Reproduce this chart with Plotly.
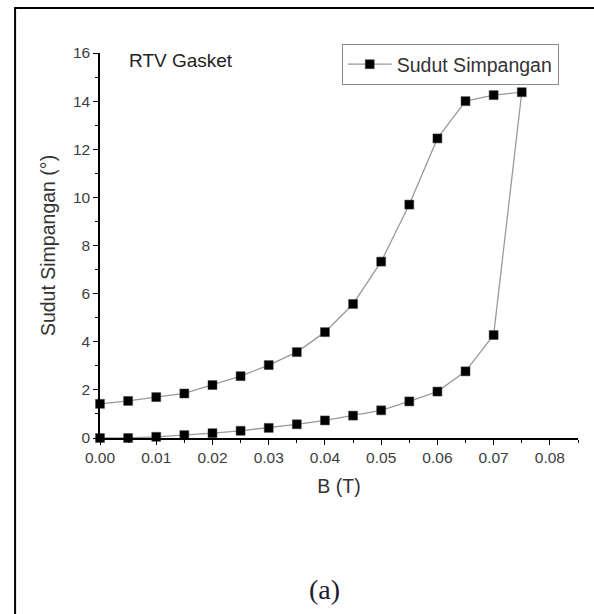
import plotly.graph_objects as go

# Data: B field (T) and deflection angle (degrees)
b_up = [0.000, 0.005, 0.010, 0.015, 0.020, 0.025, 0.030, 0.035, 0.040,
        0.045, 0.050, 0.055, 0.060, 0.065, 0.070, 0.075]
angle_up = [0.00, 0.00, 0.05, 0.12, 0.20, 0.30, 0.42, 0.57, 0.73,
            0.93, 1.15, 1.52, 1.93, 2.77, 4.28, 14.37]
b_down = [0.070, 0.065, 0.060, 0.055, 0.050, 0.045, 0.040, 0.035,
          0.030, 0.025, 0.020, 0.015, 0.010, 0.005, 0.000]
angle_down = [14.25, 14.00, 12.45, 9.70, 7.33, 5.57, 4.40, 3.57,
              3.03, 2.57, 2.20, 1.85, 1.70, 1.54, 1.42]

series_name = "Sudut Simpangan"
x_title = "B (T)"
y_title = "Sudut Simpangan (°)"
label_text = "RTV Gasket"
caption = "(a)"

x_all = b_up + b_down
y_all = angle_up + angle_down

fig = go.Figure()
fig.add_trace(go.Scatter(
    x=x_all, y=y_all, mode="lines+markers", name=series_name,
    line=dict(color="#9a9a9a", width=1.3),
    marker=dict(symbol="square", size=9, color="#000000",
                line=dict(color="#444444", width=0.5)),
    cliponaxis=False,
))

W, H = 594, 614
L, R, T, B = 100, 15.5, 53, 176
pw = W - L - R
ph = H - T - B

def px(x):
    return (x - L) / pw

def py(y):
    return (H - B - y) / ph

FONT = "Liberation Sans, Arial, sans-serif"
axis_font = dict(family=FONT, size=15.5, color="#3d3d3d")
title_font = dict(family=FONT, size=19.5, color="#333333")

fig.update_layout(
    width=W, height=H,
    margin=dict(l=L, r=R, t=T, b=B, autoexpand=False),
    paper_bgcolor="white", plot_bgcolor="white",
    showlegend=True,
    legend=dict(
        x=px(342), y=py(44), xanchor="left", yanchor="top",
        bgcolor="white", bordercolor="#8a8a8a", borderwidth=1,
        font=dict(family=FONT, size=19.5, color="#333333"),
        itemwidth=44, tracegroupgap=0,
    ),
    xaxis=dict(
        range=[0, 0.085], tickvals=[0, 0.01, 0.02, 0.03, 0.04, 0.05, 0.06, 0.07, 0.08],
        ticktext=["0.00", "0.01", "0.02", "0.03", "0.04", "0.05", "0.06", "0.07", "0.08"],
        showgrid=False, zeroline=False, showline=True, linecolor="#000000", linewidth=1.5,
        ticks="outside", ticklen=5, tickwidth=1.2, tickcolor="#000000",
        minor=dict(ticks="outside", ticklen=3, tickwidth=1, tickcolor="#000000",
                   tickvals=[0.005, 0.015, 0.025, 0.035, 0.045, 0.055, 0.065, 0.075, 0.085]),
        tickfont=axis_font,
        title=dict(text=x_title, font=title_font, standoff=14),
        automargin=False,
    ),
    yaxis=dict(
        range=[0, 16], tickvals=[0, 2, 4, 6, 8, 10, 12, 14, 16],
        showgrid=False, zeroline=False, showline=True, linecolor="#000000", linewidth=1.5,
        ticks="outside", ticklen=5, tickwidth=1.2, tickcolor="#000000",
        minor=dict(ticks="outside", ticklen=3, tickwidth=1, tickcolor="#000000",
                   tickvals=[1, 3, 5, 7, 9, 11, 13, 15]),
        tickfont=axis_font,
        title=dict(text=y_title, font=title_font, standoff=12),
        automargin=False,
    ),
    annotations=[
        dict(text=label_text, xref="paper", yref="paper", x=px(127), y=py(60),
             xanchor="left", yanchor="middle", showarrow=False,
             font=dict(family=FONT, size=19, color="#222222")),
        dict(text=caption, xref="paper", yref="paper", x=px(325), y=py(589),
             xanchor="center", yanchor="middle", showarrow=False,
             font=dict(family="Liberation Serif, DejaVu Serif, serif", size=28, color="#1c1c30")),
    ],
    shapes=[
        dict(type="rect", xref="paper", yref="paper",
             x0=px(15), x1=px(620), y0=py(640), y1=py(8),
             line=dict(color="#000000", width=2), fillcolor="rgba(0,0,0,0)", layer="below"),
    ],
)

fig.write_html("out.html")
